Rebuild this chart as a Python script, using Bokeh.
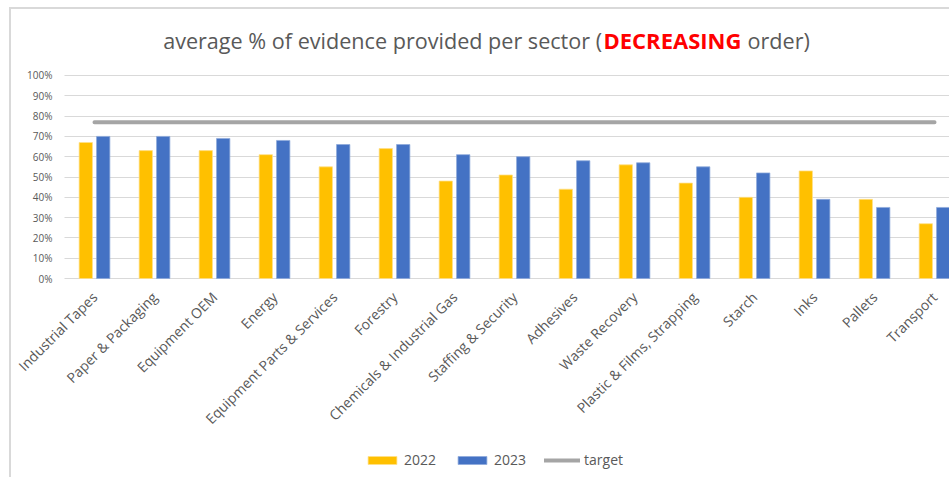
from bokeh.plotting import figure
from bokeh.models import (Range1d, NumeralTickFormatter, FixedTicker, Label,
                          Legend, LegendItem, ColumnDataSource)
from bokeh.transform import dodge
from bokeh.embed import file_html
from bokeh.resources import INLINE
import math

sectors = ["Industrial Tapes", "Paper & Packaging", "Equipment OEM", "Energy",
           "Equipment Parts & Services", "Forestry", "Chemicals & Industrial Gas",
           "Staffing & Security", "Adhesives", "Waste Recovery",
           "Plastic & Films, Strapping", "Starch", "Inks", "Pallets", "Transport"]
v2022 = [0.67, 0.63, 0.63, 0.61, 0.55, 0.64, 0.48, 0.51, 0.44, 0.56, 0.47, 0.40, 0.53, 0.39, 0.27]
v2023 = [0.70, 0.70, 0.69, 0.68, 0.66, 0.66, 0.61, 0.60, 0.58, 0.57, 0.55, 0.52, 0.39, 0.35, 0.35]
target = [0.77, 0.77, 0.77, 0.77, 0.77, 0.77, 0.77, 0.77, 0.77, 0.77, 0.77, 0.77, 0.77, 0.77, 0.77]
y_ticks = [0.0, 0.1, 0.2, 0.3, 0.4, 0.5, 0.6, 0.7, 0.8, 0.9, 1.0]

FONT = "Open Sans"
GREY_TXT = "#595959"

# category slots on a linear scale: slot i is centred at i + 0.5
pos = [i + 0.5 for i in range(len(sectors))]
src = ColumnDataSource(dict(pos=pos, sector=sectors, v2022=v2022, v2023=v2023, target=target))

X_END = 14.783
p = figure(width=940, height=470,
           x_range=Range1d(-0.8833, X_END), y_range=Range1d(-0.9901, 1.3251),
           output_backend="svg", toolbar_location=None,
           min_border_left=0, min_border_right=0, min_border_top=0,
           min_border_bottom=0)
p.outline_line_color = None
p.background_fill_color = "white"
p.border_fill_color = "white"

r22 = p.vbar(x=dodge("pos", -0.145), top="v2022", width=0.222, source=src,
             fill_color="#FFC000", line_color="#FFE08A", line_width=0.75)
r23 = p.vbar(x=dodge("pos", 0.145), top="v2023", width=0.222, source=src,
             fill_color="#4472C4", line_color="#8EA9DB", line_width=0.75)
rt = p.line(x="pos", y="target", source=src, line_color="#A5A5A5",
            line_width=4, line_cap="round")

p.xgrid.grid_line_color = None
p.ygrid.grid_line_color = "#D9D9D9"
p.ygrid.grid_line_width = 1
p.ygrid.cross_bounds = (0, X_END)

p.yaxis.ticker = FixedTicker(ticks=y_ticks)
p.yaxis.fixed_location = 0
p.yaxis.formatter = NumeralTickFormatter(format="0%")
p.yaxis.axis_line_color = None
p.yaxis.major_tick_line_color = None
p.yaxis.minor_tick_line_color = None
p.yaxis.major_label_text_font = FONT
p.yaxis.major_label_text_font_size = "10px"
p.yaxis.major_label_text_color = GREY_TXT
p.yaxis.major_label_standoff = 6

p.xaxis.ticker = FixedTicker(ticks=pos)
p.xaxis.fixed_location = 0
p.xaxis.major_label_overrides = {x: s for x, s in zip(pos, sectors)}
p.xaxis.axis_line_color = None
p.xaxis.major_tick_line_color = None
p.xaxis.minor_tick_line_color = None
p.xaxis.major_label_orientation = math.pi / 4
p.xaxis.major_label_text_font = FONT
p.xaxis.major_label_text_font_size = "14px"
p.xaxis.major_label_text_color = GREY_TXT
p.xaxis.major_label_standoff = 10

legend = Legend(items=[LegendItem(label="2022", renderers=[r22]),
                       LegendItem(label="2023", renderers=[r23]),
                       LegendItem(label="target", renderers=[rt])],
                orientation="horizontal", location=(353, 10),
                glyph_width=36, glyph_height=10, label_standoff=4, spacing=18,
                padding=0, margin=0, border_line_color=None,
                background_fill_alpha=0,
                label_text_font=FONT, label_text_font_size="14px",
                label_text_color=GREY_TXT)
p.add_layout(legend, "center")

ty = 1.1724
t1 = Label(x=8.96, y=ty, text="average % of evidence provided per sector (",
           text_align="right", text_baseline="middle", text_font=FONT,
           text_font_size="21.6px", text_color=GREY_TXT)
t2 = Label(x=8.983, y=ty, text="DECREASING", text_align="left", text_baseline="middle",
           text_font=FONT, text_font_size="22px", text_font_style="bold",
           text_color="#FF0000")
t3 = Label(x=11.383, y=ty, text=" order)", text_align="left", text_baseline="middle",
           text_font=FONT, text_font_size="21.6px", text_color=GREY_TXT)
for t in (t1, t2, t3):
    p.add_layout(t)

p.styles = {"margin-left": "9px", "margin-top": "7px",
            "border-left": "2px solid #D9D9D9", "border-top": "2px solid #D9D9D9"}

open("out.html", "w").write(file_html(p, INLINE))
